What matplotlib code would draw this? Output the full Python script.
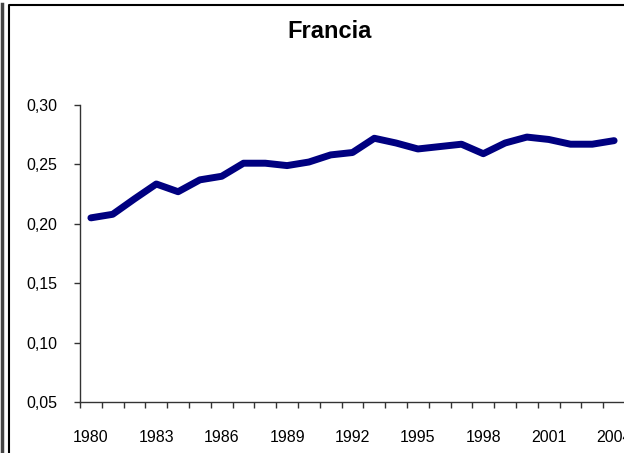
import numpy as np
import matplotlib.pyplot as plt
from matplotlib.lines import Line2D

# Datos
anios = list(range(1980, 2005))
valores = [0.205, 0.208, 0.221, 0.2335, 0.227, 0.237, 0.240, 0.251, 0.251, 0.249,
           0.252, 0.258, 0.260, 0.272, 0.268, 0.263, 0.265, 0.267, 0.259, 0.268,
           0.273, 0.271, 0.267, 0.267, 0.270]
yticks = [0.05, 0.10, 0.15, 0.20, 0.25, 0.30]

plt.rcParams['font.family'] = ['Liberation Sans', 'DejaVu Sans']

W, H = 624, 453
fig = plt.figure(figsize=(W / 100, H / 100), dpi=100)

# area del grafico (se sale un poco por la derecha, como en la captura)
x0, x1 = 80, 625
y_top, y_bot = 105, 402
ax = fig.add_axes([x0 / W, 1 - y_bot / H, (x1 - x0) / W, (y_bot - y_top) / H])

pos = np.arange(len(anios))
ax.plot(pos, valores, color='#000080', linewidth=5, solid_joinstyle='round',
        solid_capstyle='round', clip_on=False)

ax.set_xlim(-0.5, len(anios) - 0.5)
ax.set_ylim(0.05, 0.30)

ax.set_yticks(yticks)
ax.set_yticklabels([f'{v:.2f}'.replace('.', ',') for v in yticks])

# marcas entre categorias, etiquetas cada 3 anios
ax.set_xticks(np.arange(-0.5, len(anios), 1.0))
ax.set_xticklabels([])
ax.set_xticks(pos[::3], minor=True)
ax.set_xticklabels([str(a) for a in anios[::3]], minor=True)
ax.tick_params(axis='x', which='major', direction='out', length=4, width=1, color='#333333')
ax.tick_params(axis='x', which='minor', length=0, pad=20.5, labelsize=11.5)
ax.tick_params(axis='y', direction='out', length=4.5, width=1, color='#333333', pad=12, labelsize=11.5)

for s in ['top', 'right']:
    ax.spines[s].set_visible(False)
for s in ['left', 'bottom']:
    ax.spines[s].set_color('#333333')
    ax.spines[s].set_linewidth(1)

fig.text(330 / W, 1 - 31 / H, 'Francia', ha='center', va='center',
         fontsize=17, fontweight='bold')

# bordes de la ventana
fig.add_artist(Line2D([1.5 / W, 1.5 / W], [0, 1 - 4 / H], color='#444444', linewidth=2.5,
                      transform=fig.transFigure))
fig.add_artist(Line2D([9 / W, 9 / W, 1], [0, 1 - 5 / H, 1 - 5 / H], color='black',
                      linewidth=1.5, transform=fig.transFigure))

fig.savefig('out.png', dpi=100)
